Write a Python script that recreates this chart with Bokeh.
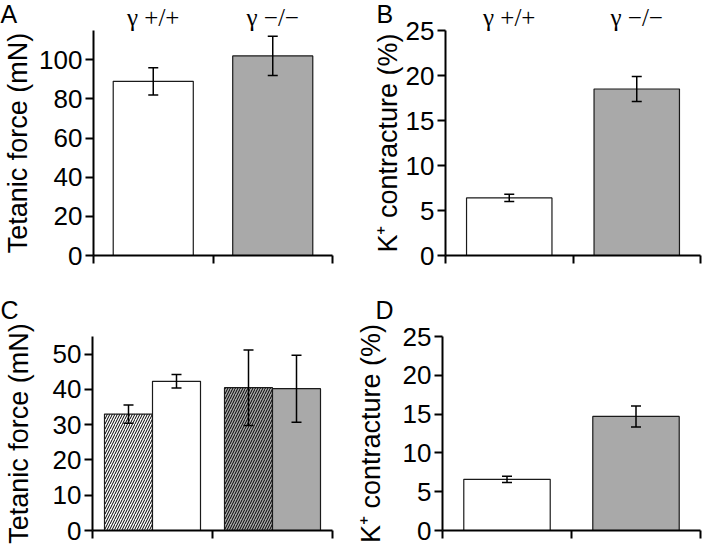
from bokeh.plotting import figure
from bokeh.models import (Range1d, LinearAxis, FixedTicker,
                          Whisker, TeeHead, ColumnDataSource, Label)
from bokeh.layouts import column, row
from bokeh.embed import file_html
from bokeh.resources import INLINE

# ---------------- data ----------------
genotypes = ["γ +/+", "γ −/−"]
conditions_C = ["hatched", "open"]

tetanic_A = [89.0, 102.0]
tetanic_A_sem = [7.0, 10.0]

kcontr_B = [6.4, 18.5]
kcontr_B_sem = [0.4, 1.4]

tetanic_C = [33.0, 42.3, 40.5, 40.2]   # order: (+/+ hatched, +/+ open, -/- hatched, -/- open)
tetanic_C_sem = [2.6, 1.9, 10.7, 9.5]

kcontr_D = [6.6, 14.7]
kcontr_D_sem = [0.4, 1.35]

ticks_A = [0, 20, 40, 60, 80, 100]
ticks_B = [0, 5, 10, 15, 20, 25]
ticks_C = [0, 10, 20, 30, 40, 50]
ticks_D = [0, 5, 10, 15, 20, 25]

label_force = "Tetanic force (mN)"
label_k = "K\u207a contracture (%)"
panel_letters = ["A", "B", "C", "D"]

# ---------------- style ----------------
SANS = "Liberation Sans"
SERIF = "Liberation Serif"
GRAY = "#a9a9a9"
geno_fill = {genotypes[0]: "white", genotypes[1]: GRAY}
cond_hatch = {"hatched": "/", "open": " "}
BAR_W = 0.67          # single bar width (fraction of a group slot)
SUB_W = 0.40          # sub-bar width in grouped panel


def panel(n_groups, y_end, ticks, ylabel, w, h, mb, label_standoff, top_labels):
    p = figure(width=w, height=h, x_range=Range1d(0, n_groups), y_range=Range1d(0, y_end),
               output_backend="svg", toolbar_location=None, x_axis_location=None,
               min_border_left=mb[0], min_border_right=mb[1],
               min_border_top=mb[2], min_border_bottom=mb[3])
    p.outline_line_color = None
    p.grid.visible = False
    p.background_fill_color = "white"
    p.border_fill_color = "white"

    yax = p.yaxis[0]
    yax.ticker = FixedTicker(ticks=ticks)
    yax.axis_line_width = 2
    yax.major_tick_line_width = 2
    yax.major_tick_in = 0
    yax.major_tick_out = 8
    yax.minor_tick_line_color = None
    yax.major_label_text_font = SANS
    yax.major_label_text_font_size = "26px"
    yax.major_label_text_color = "black"
    yax.major_label_standoff = 3
    yax.axis_label = ylabel
    yax.axis_label_text_font = SANS
    yax.axis_label_text_font_size = "27px"
    yax.axis_label_text_font_style = "normal"
    yax.axis_label_text_color = "black"
    yax.axis_label_standoff = label_standoff

    edges = list(range(n_groups + 1))
    bot = LinearAxis(ticker=FixedTicker(ticks=edges),
                     major_label_overrides={e: "" for e in edges})
    bot.axis_line_width = 2
    bot.major_tick_line_width = 2
    bot.major_tick_in = 0
    bot.major_tick_out = 8
    bot.minor_tick_line_color = None
    bot.major_label_text_font_size = "1px"
    bot.major_label_standoff = -14
    p.add_layout(bot, "below")

    if top_labels:
        centers = [i + 0.5 for i in range(len(top_labels))]
        top = LinearAxis(ticker=FixedTicker(ticks=centers),
                         major_label_overrides={c: t for c, t in zip(centers, top_labels)})
        top.axis_line_color = None
        top.major_tick_line_color = None
        top.minor_tick_line_color = None
        top.major_tick_out = 0
        top.major_tick_in = 0
        top.major_label_standoff = 0
        top.major_label_text_font = SERIF
        top.major_label_text_font_size = "25px"
        top.major_label_text_color = "black"
        p.add_layout(top, "above")
    return p


def bars(p, xs, vals, sems, fills, hatches, width):
    src = ColumnDataSource(dict(
        x=xs, top=vals,
        upper=[v + s for v, s in zip(vals, sems)],
        lower=[v - s for v, s in zip(vals, sems)],
        fill=fills, hatch=hatches))
    p.vbar(x="x", top="top", width=width, source=src, fill_color="fill",
           line_color="#1a1a1a", line_width=1.2,
           hatch_pattern="hatch", hatch_color="black", hatch_scale=5, hatch_weight=1)
    w = Whisker(base="x", upper="upper", lower="lower", source=src, level="overlay",
                line_color="black", line_width=1.5,
                upper_head=TeeHead(size=10, line_width=1.5, line_color="black"),
                lower_head=TeeHead(size=10, line_width=1.5, line_color="black"))
    p.add_layout(w)


def letter(p, text, x, y, side):
    # placed in a side panel so that it is not clipped to the plot frame
    p.add_layout(Label(x=x, y=y, x_units="canvas", y_units="canvas", text=text,
                       text_font=SANS, text_font_size="25px", text_color="black",
                       text_baseline="alphabetic", text_align="left"), side)


W_L, W_R = 352, 352
H1, H2 = 269, 275
geno_x = [i + 0.5 for i in range(len(genotypes))]

# Panel A
pA = panel(len(genotypes), 115, ticks_A, label_force, W_L, H1, (80, 20, 26, 14), 3, genotypes)
bars(pA, geno_x, tetanic_A, tetanic_A_sem, [geno_fill[g] for g in genotypes],
     [" "] * len(genotypes), BAR_W)
letter(pA, panel_letters[0], 0, 13, "right")

# Panel B
pB = panel(len(genotypes), 25, ticks_B, label_k, W_R, H1, (91, 4, 26, 14), 0, genotypes)
bars(pB, geno_x, kcontr_B, kcontr_B_sem, [geno_fill[g] for g in genotypes],
     [" "] * len(genotypes), BAR_W)
letter(pB, panel_letters[1], 24, 13, "left")

# Panel C (grouped)
pairs_C = [(gi, ci) for gi in range(len(genotypes)) for ci in range(len(conditions_C))]
x_C = [gi + 0.5 + (ci - (len(conditions_C) - 1) / 2) * SUB_W for gi, ci in pairs_C]
pC = panel(len(genotypes), 55, ticks_C, label_force, W_L, H2, (80, 20, 66, 14), 16, None)
bars(pC, x_C, tetanic_C, tetanic_C_sem, [geno_fill[genotypes[gi]] for gi, ci in pairs_C],
     [cond_hatch[conditions_C[ci]] for gi, ci in pairs_C], SUB_W)
letter(pC, panel_letters[2], 0, 40, "above")

# Panel D
pD = panel(len(genotypes), 25, ticks_D, label_k, W_R, H2, (87, 4, 67, 14), 14, None)
bars(pD, geno_x, kcontr_D, kcontr_D_sem, [geno_fill[g] for g in genotypes],
     [" "] * len(genotypes), BAR_W)
letter(pD, panel_letters[3], 23, 40, "above")

layout = column(row(pA, pB), row(pC, pD))
open("out.html", "w").write(file_html(layout, INLINE))
